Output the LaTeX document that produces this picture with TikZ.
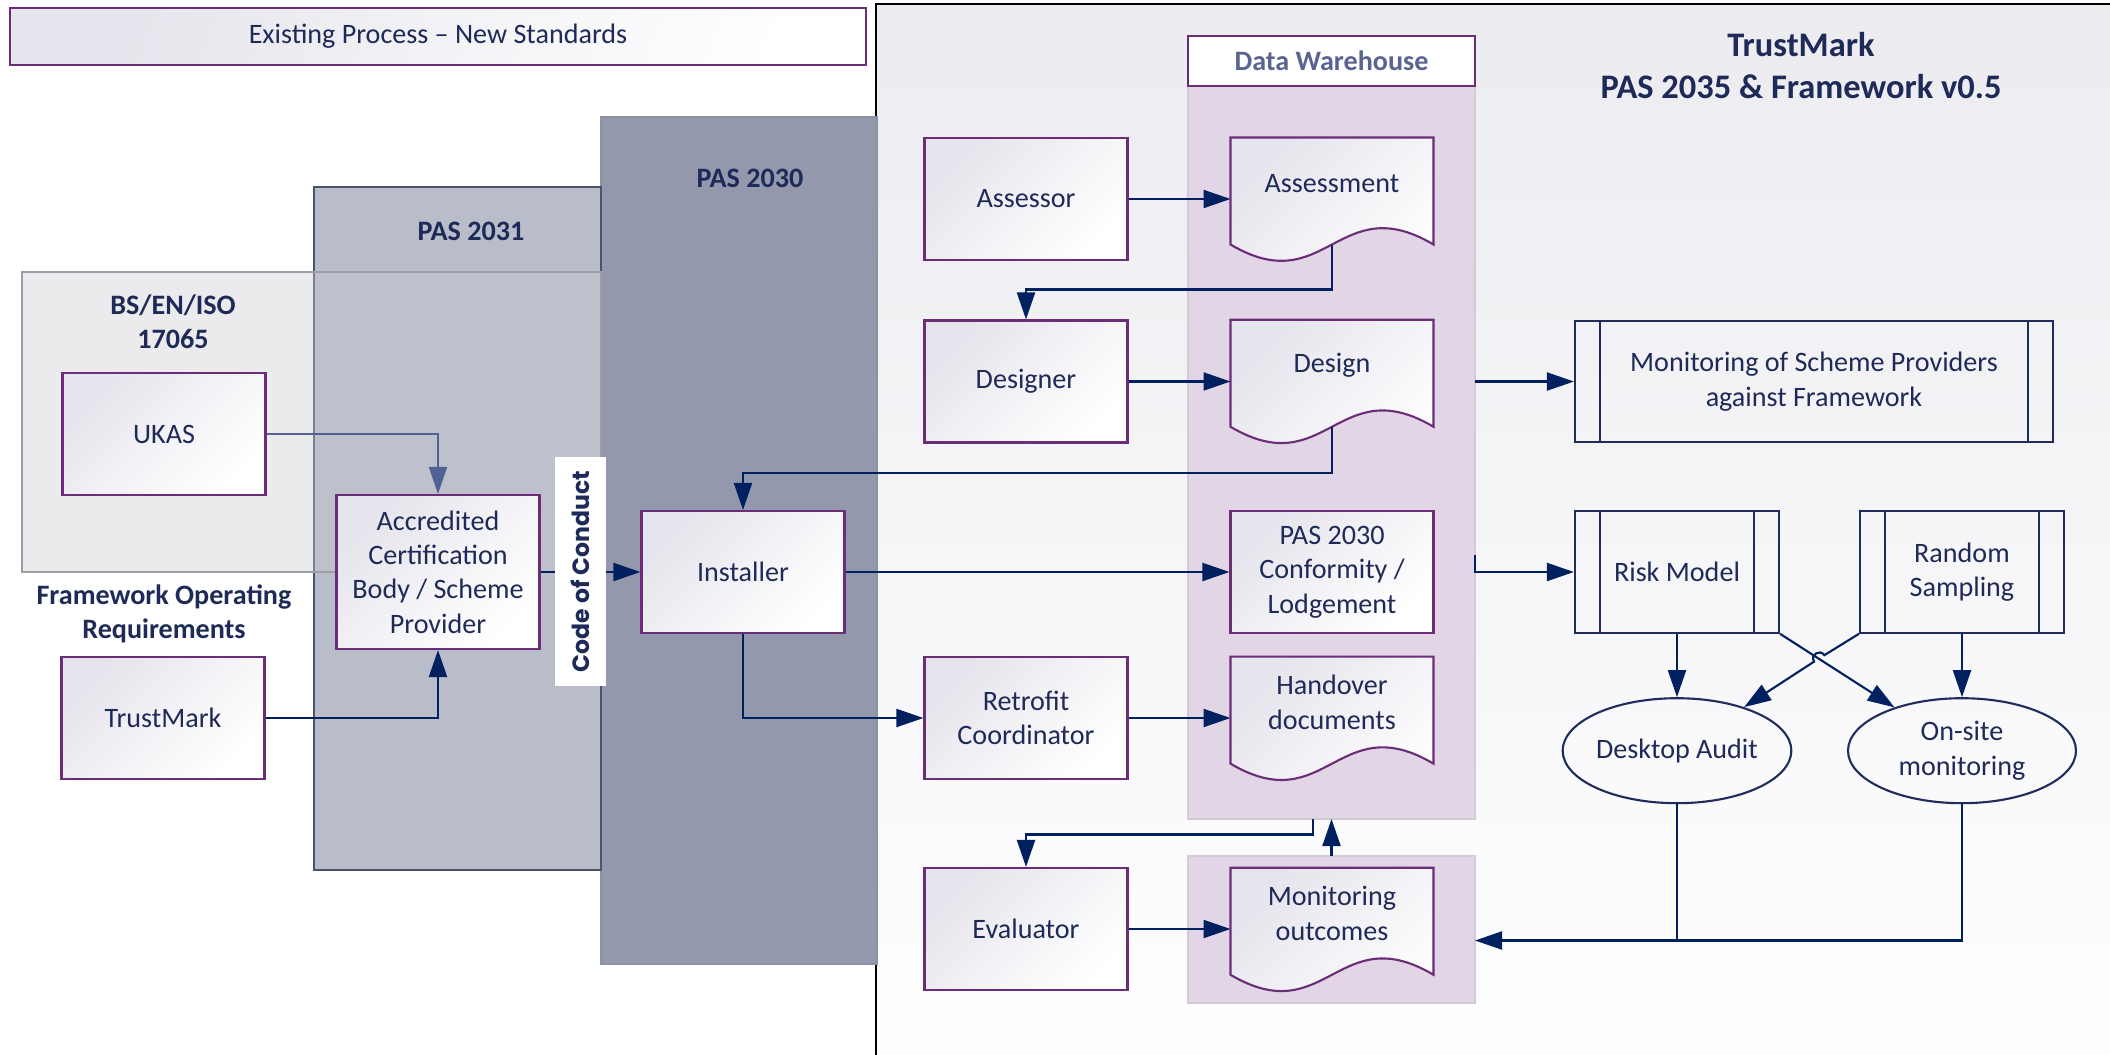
\documentclass[tikz,border=0pt]{standalone}
\usepackage{fontspec}
\setmainfont{Carlito}
\newfontfamily\conductfont{Poppins}
\usetikzlibrary{arrows.meta,calc,shapes.geometric}
\pgfdeclarelayer{back}
\pgfdeclarelayer{paper}
\pgfsetlayers{back,paper,main}
\definecolor{boxpurple}{HTML}{6B2C78}
\definecolor{boxgray}{HTML}{E6E4EC}
\definecolor{arrnavy}{HTML}{002060}
\definecolor{txtnavy}{HTML}{1E2A57}
\definecolor{ukasblue}{HTML}{4F6293}
\definecolor{procline}{HTML}{1F2C5C}
\definecolor{pasthirty}{HTML}{9398AD}
\definecolor{pasthirtyline}{HTML}{8C91A6}
\definecolor{pasthirtyone}{HTML}{B9BDC9}
\definecolor{pasthirtyoneline}{HTML}{4D536C}
\definecolor{bsfill}{HTML}{C9C9D1}
\definecolor{bsline}{HTML}{9E9EA6}
\definecolor{dwfill}{HTML}{E2D5E6}
\definecolor{dwline}{HTML}{D2CAD6}
\definecolor{dwtext}{HTML}{5A6491}
\definecolor{tmbg}{HTML}{ECEBF0}
\begin{document}
\begin{tikzpicture}[x=0.1mm, y=-0.1mm, font=\fontsize{8}{9.8}\selectfont, text=txtnavy,
  process/.style={draw=boxpurple, line width=0.6pt, top color=boxgray, middle color=white!88!boxgray, bottom color=white,
    shading angle=45, minimum width=20.3mm, minimum height=12.2mm, align=center, inner sep=1mm},
  docpage/.style={minimum width=20.3mm, minimum height=9.15mm, align=center, outer sep=0pt},
  pageoutline/.style={draw=boxpurple, line width=0.6pt, top color=boxgray, middle color=white!88!boxgray, bottom color=white,
    shading angle=45},
  subprocess/.style={draw=procline, line width=0.6pt, minimum width=20.4mm, minimum height=12.15mm, align=center,
    path picture={\draw[procline, line width=0.6pt]
      ([xshift=2.5mm]path picture bounding box.north west) -- ([xshift=2.5mm]path picture bounding box.south west)
      ([xshift=-2.5mm]path picture bounding box.north east) -- ([xshift=-2.5mm]path picture bounding box.south east);}},
  audit/.style={ellipse, draw=procline, line width=0.6pt, minimum width=22.8mm, minimum height=10.5mm, align=center, inner sep=0pt},
  column/.style={fill=dwfill, draw=dwline, line width=0.4pt, minimum width=28.7mm, inner sep=0pt, outer sep=0pt},
  heading/.style={font=\bfseries\fontsize{8}{9.8}\selectfont, align=center},
  conduct/.style={fill=white, rotate=90, minimum width=22.9mm, minimum height=5.1mm, inner sep=0pt,
    font=\conductfont\bfseries\fontsize{6.7}{8}\selectfont},
  flow/.style={draw=arrnavy, line width=0.6pt, -{Triangle[length=2.7mm,width=1.8mm]}}]
\useasboundingbox (0,0) rectangle (2110,1055);

% backgrounds and standard areas
\begin{pgfonlayer}{back}
\draw[black, line width=0.8pt, top color=tmbg, middle color=white!55!tmbg, bottom color=white] (876,4) rectangle (2140,1080);
\draw[pasthirtyline, line width=0.4pt, fill=pasthirty] (601,117) rectangle (877,964);
\draw[pasthirtyoneline, line width=0.5pt, fill=pasthirtyone] (314,187) rectangle (601,870);
\draw[bsline, line width=0.5pt, fill=bsfill, fill opacity=0.37] (22,272) rectangle (601,572);
\node[column, minimum height=73.3mm] (dw) at (1331.5,452.5) {};
\node[column, minimum height=14.7mm] (mongrp) at (1331.5,929.5) {};
\end{pgfonlayer}

\node[draw=boxpurple, line width=0.6pt, top color=boxgray, middle color=white!88!boxgray, bottom color=white, shading angle=70,
  minimum width=85.6mm, minimum height=5.7mm] (oldtitle) at (438,36.5) {Existing Process – New Standards};
\node[heading, font=\bfseries\fontsize{9.8}{12}\selectfont] (tmtitle) at (1801,65.5) {TrustMark\\PAS 2035 \& Framework v0.5};
\node[heading] (pasthirtylbl) at (750,178) {PAS 2030};
\node[heading] (pasthirtyonelbl) at (471,231) {PAS 2031};
\node[heading] (bslbl) at (173,322) {BS/EN/ISO\\17065};
\node[heading] (forlbl) at (164,614) {Framework Operating\\Requirements};
\node[draw=boxpurple, line width=0.6pt, fill=white, minimum width=28.7mm, minimum height=5mm,
  font=\bfseries\fontsize{8}{9.8}\selectfont, text=dwtext] (dwhead) at (1331.5,61) {Data Warehouse};

% existing process
\node[process] (ukas) at (164,434) {UKAS};
\node[process] (tmbox) at (163,718) {TrustMark};
\node[process, minimum height=15.4mm] (acb) at (438,572) {Accredited\\Certification\\Body / Scheme\\Provider};
\node[process] (inst) at (743,572) {Installer};

% roles and records
\node[process] (assessor) at (1026,199) {Assessor};
\node[process] (designer) at (1026,381.5) {Designer};
\node[process] (retro) at (1026,718) {Retrofit\\Coordinator};
\node[process] (evaluator) at (1026,929) {Evaluator};
\node[process] (conf) at (1332,572) {PAS 2030\\Conformity /\\Lodgement};
\node[docpage] (assessdoc) at (1332,183.25) {Assessment};
\node[docpage] (designdoc) at (1332,365.5) {Design};
\node[docpage] (handdoc) at (1332,702.4) {Handover\\documents};
\node[docpage] (mondoc) at (1332,913.5) {Monitoring\\outcomes};
\begin{pgfonlayer}{paper}
\foreach \d in {assessdoc,designdoc,handdoc,mondoc}
  \path[pageoutline] (\d.north west) -- (\d.north east) -- ([yshift=-1.55mm]\d.south east)
    .. controls ($(\d.south west)!0.53!(\d.south east)+(0,-41)$) and ($(\d.south west)!0.47!(\d.south east)+(0,72)$)
    .. ([yshift=-1.55mm]\d.south west) -- cycle;
\end{pgfonlayer}

% TrustMark framework
\node[subprocess, minimum width=47.8mm] (msp) at (1814,381.5) {Monitoring of Scheme Providers\\against Framework};
\node[subprocess] (rm) at (1677,572) {Risk Model};
\node[subprocess] (rs) at (1962,572) {Random\\Sampling};
\node[audit] (da) at (1677,750.7) {Desktop Audit};
\node[audit] (os) at (1962,750.7) {On-site\\monitoring};

% connectors
\draw[flow, draw=ukasblue] (ukas.east) -| (acb.north);
\draw[flow] (tmbox.east) -| (acb.south);
\draw[flow] (acb.east) -- (inst.west);
\node[conduct] (coc) at (580.5,571.5) {Code of Conduct};
\draw[flow] (assessor.east) -- (assessor.east -| assessdoc.west);
\draw[flow] ([yshift=-1.55mm]assessdoc.south) -- ++(0,45) -| (designer.north);
\draw[flow] (designer.east) -- (designer.east -| designdoc.west);
\draw[flow] ([yshift=-1.55mm]designdoc.south) -- ++(0,46) -| (inst.north);
\draw[flow] (inst.east) -- (conf.west);
\draw[flow] (inst.south) |- (retro.west);
\draw[flow] (retro.east) -- (retro.east -| handdoc.west);
\draw[flow] ([xshift=-1.86mm]dw.south) -- ++(0,15.5) -| (evaluator.north);
\draw[flow] (mongrp.north) -- (dw.south);
\draw[flow] (evaluator.east) -- (evaluator.east -| mondoc.west);
\draw[flow] (msp.west -| dw.east) -- (msp.west);
\draw[flow] ($(rm.west -| dw.east)+(0,-17)$) |- (rm.west);
\draw[flow] (rm.south) -- (da.north);
\draw[flow] (rs.south) -- (os.north);
\draw[flow] (rm.south east) -- (os);
\draw[flow] (rs.south west) -- (1824.3,655.2) .. controls (1820,648.5) and (1809.8,654.9) .. (1814.1,661.6) -- (da);
\coordinate (mgin) at ($(mongrp.east)+(0,11)$);
\draw[flow] (os.south) |- (mgin);
\draw[arrnavy, line width=0.6pt] (da.south) -- (da.south |- mgin);
\end{tikzpicture}
\end{document}
